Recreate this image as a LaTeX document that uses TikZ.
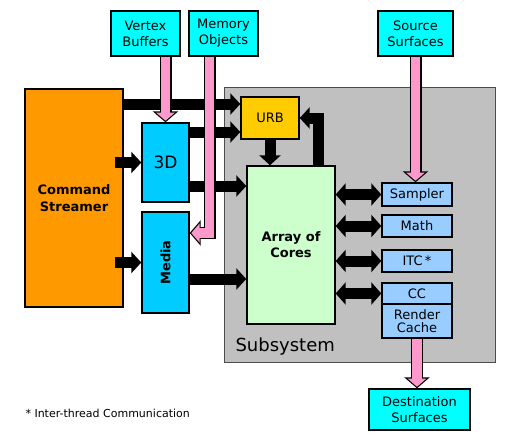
\documentclass[tikz,border=0pt]{standalone}
\usepackage{fontspec}
\setmainfont{DejaVu Sans}
\usepackage{graphicx}
\usetikzlibrary{arrows.meta}
\definecolor{surfcyan}{HTML}{00FFFF}
\definecolor{enginecyan}{HTML}{00CCFF}
\definecolor{csorange}{HTML}{FF9900}
\definecolor{subgrey}{HTML}{C0C0C0}
\definecolor{urbyellow}{HTML}{FFCC00}
\definecolor{coregreen}{HTML}{CCFFCC}
\definecolor{unitblue}{HTML}{99CCFF}
\definecolor{arrowpink}{HTML}{FF99CC}
\tikzset{
  blockbox/.style={draw, line width=1.4pt, inner sep=0pt, align=center,
    font=\fontsize{13}{16}\selectfont},
  surface/.style={blockbox, fill=surfcyan},
  engine/.style={blockbox, fill=enginecyan},
  unitbox/.style={blockbox, fill=unitblue, minimum width=70pt},
  blk/.style={line width=11pt, -{Triangle[length=10pt,width=21pt]}},
  blkboth/.style={line width=11pt,
    {Triangle[length=10pt,width=22pt]}-{Triangle[length=10pt,width=22pt]}},
  pinkarrow/.style={preaction={draw=black, line width=12pt, shorten >=0pt,
      -{Triangle[length=11pt,width=25pt]}},
    draw=arrowpink, line width=9.6pt, shorten >=1.6pt,
    -{Triangle[length=8.2pt,width=18.6pt]}}
}
\begin{document}
\begin{tikzpicture}[x=1pt, y=-1pt]
  \useasboundingbox (0,0) rectangle (515,437);
  % subsystem frame
  \node[draw=gray!60!black, line width=0.8pt, fill=subgrey, inner sep=0pt,
    minimum width=271pt, minimum height=275pt] (sub) at (359.5,224.5) {};
  \node[anchor=base west, font=\fontsize{18}{20}\selectfont] (sublabel) at (232,351) {Subsystem};

  % memory surfaces
  \node[surface, minimum width=69pt, minimum height=45pt] (vb) at (145.5,33.5) {Vertex\\Buffers};
  \node[surface, minimum width=69pt, minimum height=45pt] (mo) at (223.5,33.5) {Memory\\Objects};
  \node[surface, minimum width=75pt, minimum height=45pt] (ss) at (415.5,33.5) {Source\\Surfaces};
  \node[surface, minimum width=101pt, minimum height=41pt] (ds) at (419.5,409.5) {Destination\\Surfaces};

  % front end
  \node[blockbox, fill=csorange, minimum width=98pt, minimum height=218pt,
    font=\bfseries\fontsize{13}{17}\selectfont] (cs) at (74,198) {Command\\Streamer};
  \node[engine, minimum width=47pt, minimum height=79pt,
    font=\fontsize{17}{20}\selectfont] (d3) at (165.5,162.5) {3D};
  \node[engine, minimum width=47pt, minimum height=101pt,
    font=\bfseries\fontsize{13}{16}\selectfont] (media) at (165.5,262.5) {\rotatebox{90}{Media}};

  % subsystem
  \node[blockbox, fill=urbyellow, minimum width=58pt, minimum height=42pt] (urb) at (270,118) {URB};
  \node[blockbox, fill=coregreen, minimum width=88pt, minimum height=158pt,
    font=\bfseries\fontsize{13}{16}\selectfont] (core) at (291,245) {Array of\\Cores};
  \node[unitbox, minimum height=23pt] (smp) at (417,194.5) {Sampler};
  \node[unitbox, minimum height=22pt] (math) at (417,226) {Math};
  \node[unitbox, minimum height=22pt] (itc) at (417,261) {ITC\,*};
  \node[unitbox, minimum height=21pt] (cc) at (417,293.5) {CC};
  \node[unitbox, minimum height=34pt, font=\fontsize{13}{13.5}\selectfont] (rc) at (417,321) {Render\\Cache};

  \node[anchor=base west, font=\fontsize{11}{13}\selectfont] (note) at (22,417) {* Inter-thread Communication};

  % data paths
  \draw[blk] (cs.east |- 0,104) -- (urb.west |- 0,104);
  \draw[blk] (d3.east |- 0,132) -- (urb.west |- 0,132);
  \draw[blk] (d3.east |- 0,186) -- (core.west |- 0,186);
  \draw[blk] ([xshift=-9pt]cs.east |- d3.west) -- (d3.west);
  \draw[blk] ([xshift=-9pt]cs.east |- media.west) -- (media.west);
  \draw[blk] (media.east |- 0,279) -- (core.west |- 0,279);
  \draw[blk] (urb.south) -- (urb.south |- core.north);
  \draw[blk] (core.north -| 318.5,0) |- (urb.east);
  \draw[blkboth] (core.east |- smp.west) -- (smp.west);
  \draw[blkboth] (core.east |- math.west) -- (math.west);
  \draw[blkboth] (core.east |- itc.west) -- (itc.west);
  \draw[blkboth] (core.east |- cc.west) -- (cc.west);

  % memory paths
  \draw[pinkarrow] (d3.north |- vb.south) -- (d3.north);
  \draw[pinkarrow] ([xshift=-14pt]mo.south) |- (media.east |- 0,233);
  \draw[pinkarrow] (ss.south) -- (ss.south |- smp.north);
  \draw[pinkarrow] (rc.south) -- (rc.south |- ds.north);
\end{tikzpicture}
\end{document}
